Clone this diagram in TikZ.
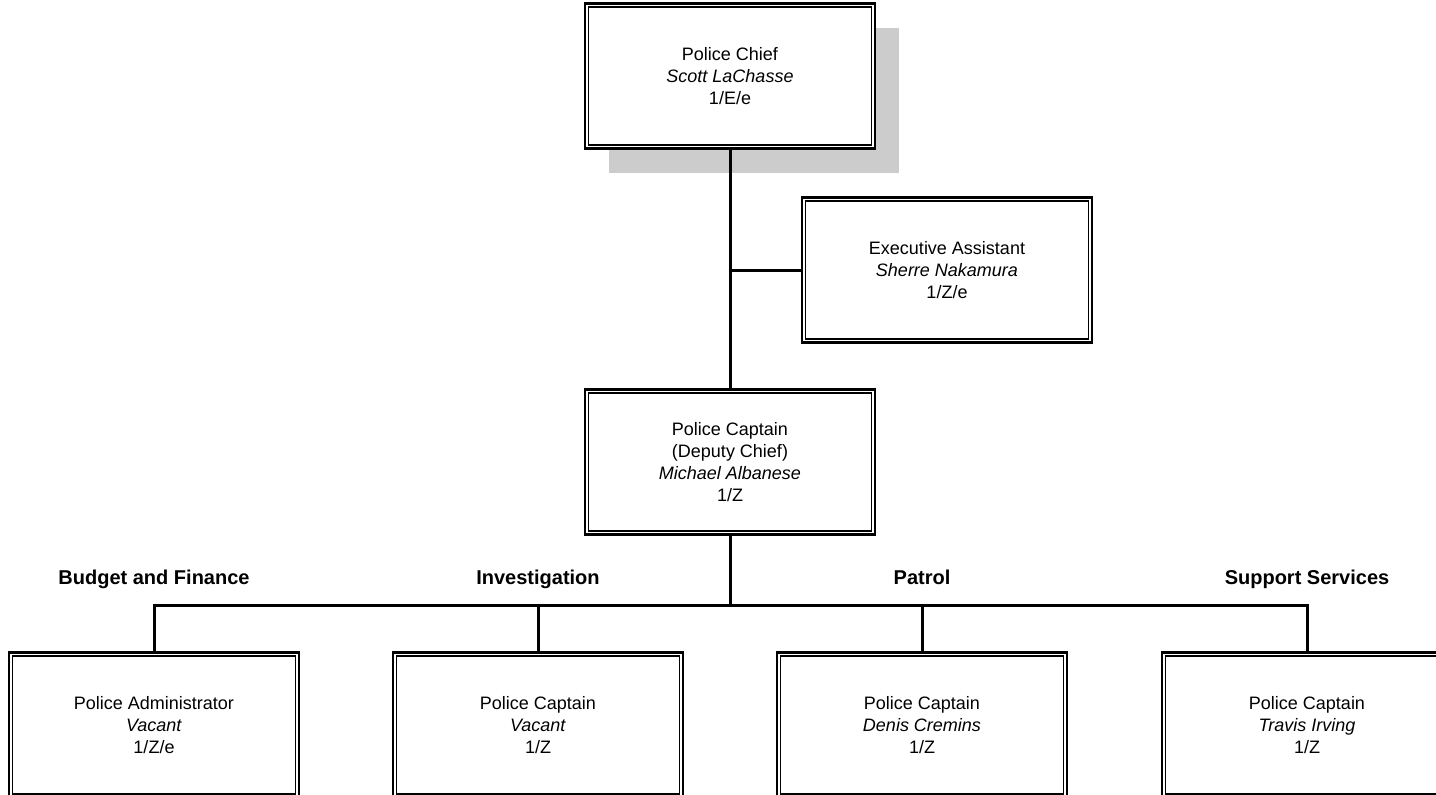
\documentclass[tikz,border=0pt]{standalone}
\usepackage{fontspec}
\setmainfont{Liberation Sans}
\usetikzlibrary{shadows}

\begin{document}
\begin{tikzpicture}[x=1pt, y=1pt,
    post/.style={draw, line width=2.8pt, fill=white, minimum width=290pt, minimum height=145pt,
      inner sep=0pt, align=center, font=\fontsize{18}{22}\selectfont},
    dept/.style={anchor=base, font=\fontsize{20}{24}\selectfont\bfseries},
    link/.style={line width=3pt}]
  \useasboundingbox (0,0) rectangle (1436,-795);

  % top of the chart
  \node[post, drop shadow={shadow xshift=24pt, shadow yshift=-24pt, fill=black!20, opacity=1}]
    (chief) at (730,-76) {Police Chief\\ \textit{Scott LaChasse}\\ 1/E/e};
  \node[post] (assist) at (947,-270) {Executive Assistant\\ \textit{Sherre Nakamura}\\ 1/Z/e};
  \node[post] (deputy) at (730,-462) {Police Captain\\ (Deputy Chief)\\ \textit{Michael Albanese}\\ 1/Z};

  % divisions
  \node[post] (budget) at (154,-725) {Police Administrator\\ \textit{Vacant}\\ 1/Z/e};
  \node[post] (invest) at (538,-725) {Police Captain\\ \textit{Vacant}\\ 1/Z};
  \node[post] (patrol) at (922,-725) {Police Captain\\ \textit{Denis Cremins}\\ 1/Z};
  \node[post] (support) at (1307,-725) {Police Captain\\ \textit{Travis Irving}\\ 1/Z};

  \node[dept] (budgetlbl) at (154,-584) {Budget and Finance};
  \node[dept] (investlbl) at (538,-584) {Investigation};
  \node[dept] (patrollbl) at (922,-584) {Patrol};
  \node[dept] (supportlbl) at (1307,-584) {Support Services};

  % inner frame of each box
  \foreach \n in {chief,assist,deputy,budget,invest,patrol,support}
    \draw[line width=1.3pt] ([shift={(5pt,-5pt)}]\n.north west) rectangle ([shift={(-5pt,5pt)}]\n.south east);

  % lines
  \coordinate (bus) at (730,-605);
  \draw[link] (chief.south) -- (deputy.north);
  \draw[link] (assist.west) -- (assist.west -| chief.south);
  \draw[link] (deputy.south) -- (bus);
  \foreach \n in {budget,invest,patrol,support}
    \draw[link] (\n.north) |- (bus);
\end{tikzpicture}
\end{document}
